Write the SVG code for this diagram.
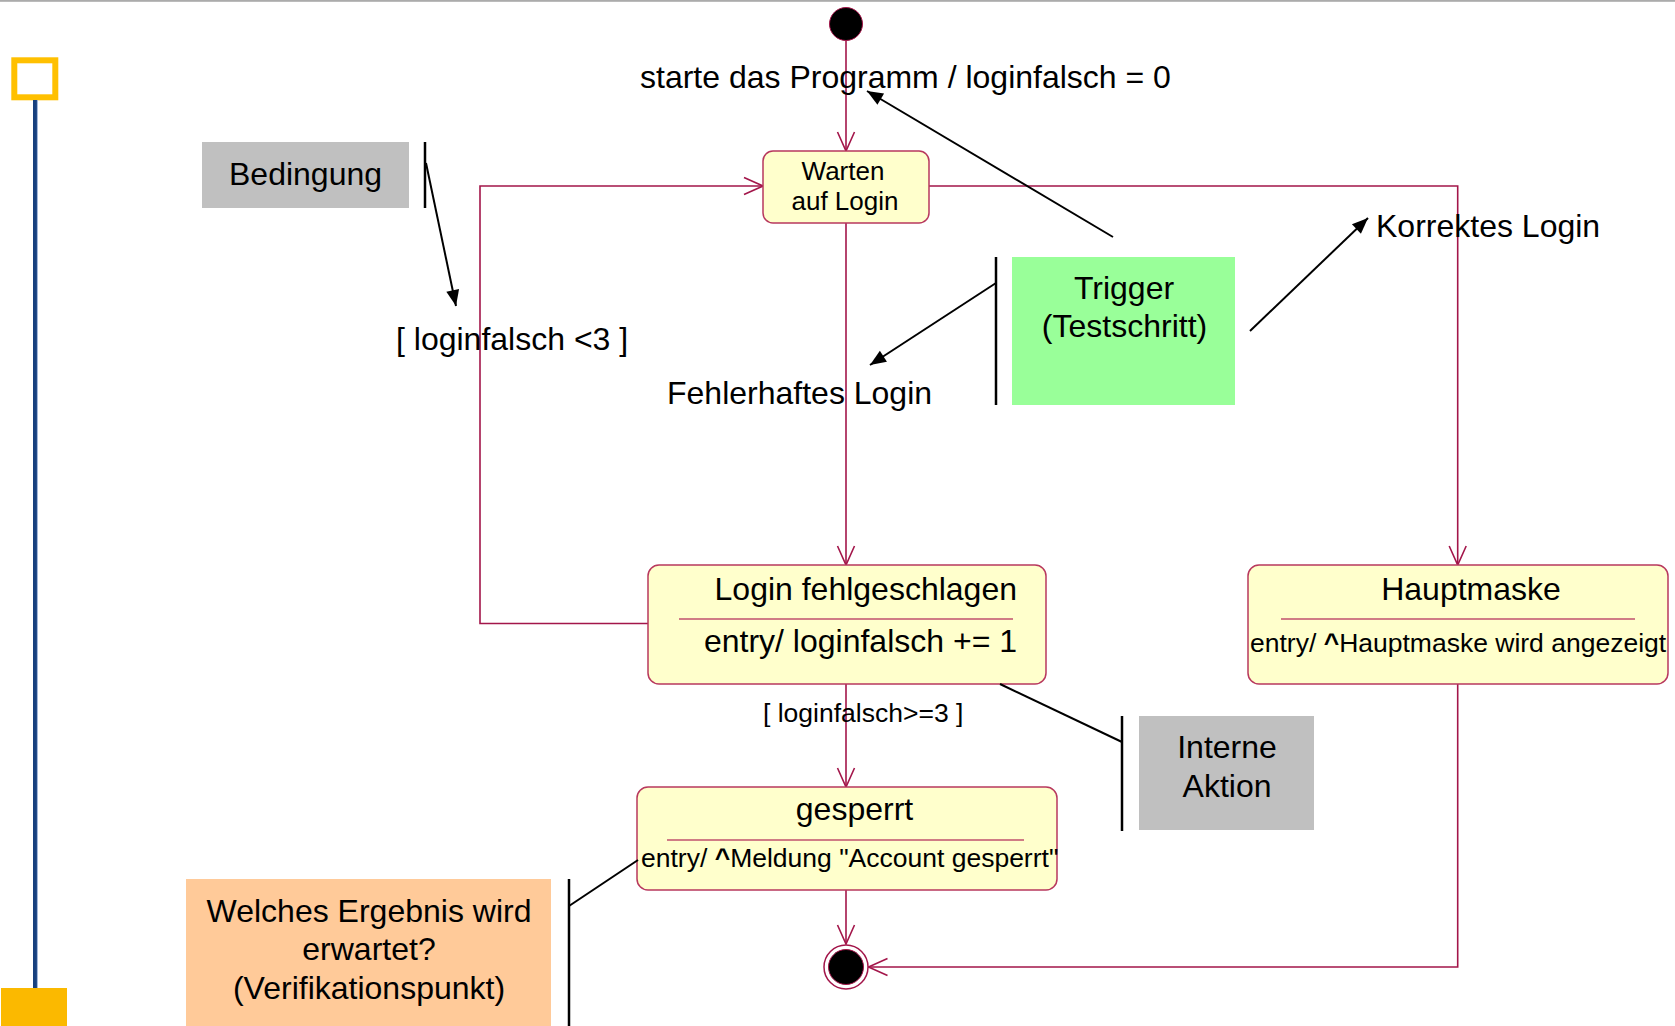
<svg xmlns="http://www.w3.org/2000/svg" width="1675" height="1026" viewBox="0 0 1675 1026">
  <style>
    .t { font-family: "Liberation Sans", Arial, sans-serif; fill: #000; }
    .lg { font-size: 32px; }
    .sm { font-size: 26.5px; }
    .md { font-size: 26px; }
    .state { fill: #FFFFCC; stroke: #B8385E; stroke-width: 1.5; }
    .div { stroke: #C0506E; stroke-width: 1.3; }
    .tr { fill: none; stroke: #A3164A; stroke-width: 1.6; }
    .note { fill: none; stroke: #000; stroke-width: 2; }
    .brk { fill: none; stroke: #000; stroke-width: 2.5; }
  </style>
  <defs>
    <marker id="open" markerUnits="userSpaceOnUse" markerWidth="24" markerHeight="22" viewBox="-22 -11 24 22" refX="0" refY="0" orient="auto" overflow="visible">
      <path d="M-19,-8.5 L0,0 L-19,8.5" fill="none" stroke="#A3164A" stroke-width="1.6"/>
    </marker>
    <marker id="solid" markerUnits="userSpaceOnUse" markerWidth="18" markerHeight="16" viewBox="-17 -8 18 16" refX="0" refY="0" orient="auto" overflow="visible">
      <path d="M-16,-6.5 L0,0 L-16,6.5 Z" fill="#000"/>
    </marker>
  </defs>

  <!-- page frame decoration -->
  <rect x="0" y="0" width="1675" height="1.8" fill="#ABABAB"/>
  <g id="timeline">
    <rect x="14.3" y="60.3" width="41" height="37" fill="#fff" stroke="#FFC000" stroke-width="6"/>
    <line x1="35" y1="100" x2="35" y2="988" stroke="#17407E" stroke-width="4"/>
    <line x1="37.4" y1="100" x2="37.4" y2="988" stroke="#9AB0D6" stroke-width="1"/>
    <rect x="1" y="988" width="66" height="38" fill="#FBB900"/>
  </g>

  <!-- transitions -->
  <g id="connectors">
    <path class="tr" d="M846,40.5 V151" marker-end="url(#open)"/>
    <path class="tr" d="M846,223 V565" marker-end="url(#open)"/>
    <path class="tr" d="M929,186 H1457.7 V565" marker-end="url(#open)"/>
    <path class="tr" d="M648,623.5 H480 V186 H763" marker-end="url(#open)"/>
    <path class="tr" d="M846,684 V787" marker-end="url(#open)"/>
    <path class="tr" d="M846,890 V944" marker-end="url(#open)"/>
    <path class="tr" d="M1457.7,684 V967 H868.5" marker-end="url(#open)"/>
  </g>

  <!-- states -->
  <g id="start">
    <circle cx="846" cy="24" r="16.5" fill="#000" stroke="#A3164A" stroke-width="1"/>
  </g>
  <g id="warten">
    <rect class="state" x="763" y="151" width="166" height="72" rx="10"/>
    <text class="t md" x="843" y="180" text-anchor="middle">Warten</text>
    <text class="t md" x="845" y="210" text-anchor="middle">auf Login</text>
  </g>
  <g id="login-fehlgeschlagen">
    <rect class="state" x="648" y="565" width="398" height="119" rx="11"/>
    <line class="div" x1="679" y1="619" x2="1013" y2="619"/>
    <text class="t lg" x="1017" y="600" text-anchor="end">Login fehlgeschlagen</text>
    <text class="t lg" x="1017" y="652" text-anchor="end">entry/ loginfalsch += 1</text>
  </g>
  <g id="hauptmaske">
    <rect class="state" x="1248" y="565" width="420" height="119" rx="11"/>
    <line class="div" x1="1281" y1="619" x2="1635" y2="619"/>
    <text class="t lg" x="1471" y="600" text-anchor="middle">Hauptmaske</text>
    <text class="t sm" x="1250" y="652">entry/ <tspan font-weight="bold">^</tspan>Hauptmaske wird angezeigt</text>
  </g>
  <g id="gesperrt">
    <rect class="state" x="637" y="787" width="420" height="103" rx="11"/>
    <line class="div" x1="667" y1="840" x2="1024" y2="840"/>
    <text class="t lg" x="854.5" y="820" text-anchor="middle">gesperrt</text>
    <text class="t sm" x="641" y="867">entry/ <tspan font-weight="bold">^</tspan>Meldung "Account gesperrt"</text>
  </g>
  <g id="end">
    <circle cx="846" cy="967" r="22" fill="#fff" stroke="#A3164A" stroke-width="1.5"/>
    <circle cx="846" cy="967" r="17.5" fill="#000" stroke="#A3164A" stroke-width="1"/>
  </g>

  <!-- transition labels -->
  <g id="labels">
    <text class="t lg" x="640" y="88">starte das Programm / loginfalsch = 0</text>
    <text class="t lg" x="396" y="350">[ loginfalsch &lt;3 ]</text>
    <text class="t lg" x="667" y="404">Fehlerhaftes Login</text>
    <text class="t lg" x="1376" y="237">Korrektes Login</text>
    <text class="t sm" x="763" y="722">[ loginfalsch&gt;=3 ]</text>
  </g>

  <!-- legend notes -->
  <g id="note-bedingung">
    <rect x="202" y="142" width="207" height="66" fill="#C0C0C0"/>
    <text class="t lg" x="305.5" y="185" text-anchor="middle">Bedingung</text>
    <line class="brk" x1="425" y1="142" x2="425" y2="208"/>
    <line class="note" x1="426" y1="163" x2="456" y2="306" marker-end="url(#solid)"/>
  </g>
  <g id="note-trigger">
    <rect x="1012" y="257" width="223" height="148" fill="#99FF99"/>
    <text class="t lg" x="1124" y="299" text-anchor="middle">Trigger</text>
    <text class="t lg" x="1124.5" y="337" text-anchor="middle">(Testschritt)</text>
    <line class="brk" x1="996" y1="257" x2="996" y2="405"/>
    <line class="note" x1="996" y1="283" x2="870" y2="365" marker-end="url(#solid)"/>
    <line class="note" x1="1113" y1="237" x2="867" y2="91" marker-end="url(#solid)"/>
    <line class="note" x1="1250" y1="331" x2="1368" y2="218" marker-end="url(#solid)"/>
  </g>
  <g id="note-interne-aktion">
    <rect x="1139" y="716" width="175" height="114" fill="#C0C0C0"/>
    <text class="t lg" x="1227" y="758" text-anchor="middle">Interne</text>
    <text class="t lg" x="1227" y="797" text-anchor="middle">Aktion</text>
    <line class="brk" x1="1122" y1="716" x2="1122" y2="831"/>
    <line class="note" x1="1122" y1="742" x2="1000" y2="684"/>
  </g>
  <g id="note-verifikation">
    <rect x="186" y="879" width="365" height="147" fill="#FFCA99"/>
    <text class="t lg" x="369" y="921.5" text-anchor="middle">Welches Ergebnis wird</text>
    <text class="t lg" x="369" y="960" text-anchor="middle">erwartet?</text>
    <text class="t lg" x="369" y="998.5" text-anchor="middle">(Verifikationspunkt)</text>
    <line class="brk" x1="569" y1="879" x2="569" y2="1026"/>
    <line class="note" x1="569" y1="906" x2="638" y2="860"/>
  </g>
</svg>
